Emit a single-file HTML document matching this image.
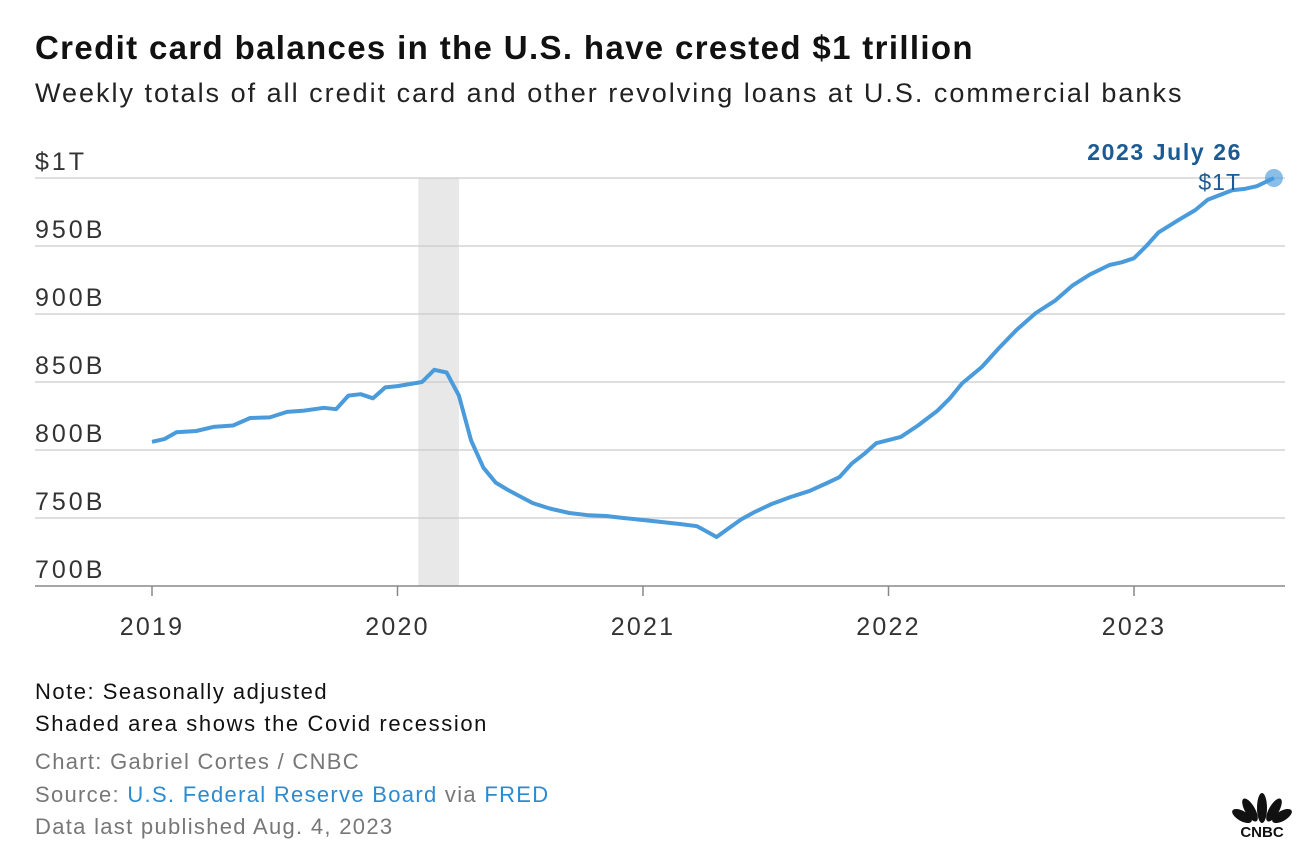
<!DOCTYPE html>
<html><head><meta charset="utf-8"><style>
body{margin:0;width:1312px;height:851px;background:#fff;font-family:"Liberation Sans",sans-serif;overflow:hidden;position:relative}
.t{position:absolute;white-space:nowrap}
a{color:#2a8bd0;text-decoration:none}
</style></head><body>
<div class="t" style="left:35px;top:29px;font-size:33px;letter-spacing:1.35px;font-weight:bold;color:#111">Credit card balances in the U.S. have crested $1 trillion</div>
<div class="t" style="left:35px;top:78px;font-size:27px;letter-spacing:2px;color:#222">Weekly totals of all credit card and other revolving loans at U.S. commercial banks</div>
<svg id="chart" width="1312" height="660" style="position:absolute;left:0;top:0"></svg>
<div class="t" style="left:35px;top:679px;font-size:22px;letter-spacing:1.5px;color:#111">Note: Seasonally adjusted</div>
<div class="t" style="left:35px;top:711px;font-size:22px;letter-spacing:1.6px;color:#111">Shaded area shows the Covid recession</div>
<div class="t" style="left:35px;top:749px;font-size:22px;letter-spacing:1.3px;color:#777">Chart: Gabriel Cortes / CNBC</div>
<div class="t" style="left:35px;top:782px;font-size:22px;letter-spacing:1.3px;color:#777">Source: <a>U.S. Federal Reserve Board</a> via <a>FRED</a></div>
<div class="t" style="left:35px;top:814px;font-size:22px;letter-spacing:1.3px;color:#777">Data last published Aug. 4, 2023</div>
<svg width="80" height="60" style="position:absolute;left:1222px;top:780px">
<g fill="#111"><ellipse cx="40" cy="28" rx="5" ry="15"/><ellipse cx="28" cy="30" rx="5" ry="13" transform="rotate(-30 28 30)"/><ellipse cx="52" cy="30" rx="5" ry="13" transform="rotate(30 52 30)"/><ellipse cx="20" cy="36" rx="5" ry="11" transform="rotate(-60 20 36)"/><ellipse cx="60" cy="36" rx="5" ry="11" transform="rotate(60 60 36)"/></g>
<text x="40" y="57" font-size="15" font-weight="bold" text-anchor="middle" fill="#111" font-family="Liberation Sans">CNBC</text></svg>
<script>
const yTicks=[700,750,800,850,900,950,1000];
const yTickLabels=["700B","750B","800B","850B","900B","950B","$1T"];
const xTicks=[2019,2020,2021,2022,2023];
const dates=[2019.0,2019.05,2019.1,2019.18,2019.25,2019.33,2019.4,2019.48,2019.55,2019.62,2019.7,2019.75,2019.8,2019.85,2019.9,2019.95,2020.0,2020.1,2020.15,2020.2,2020.25,2020.3,2020.35,2020.4,2020.45,2020.55,2020.62,2020.7,2020.78,2020.85,2020.92,2021.0,2021.08,2021.15,2021.22,2021.25,2021.3,2021.35,2021.4,2021.45,2021.52,2021.6,2021.68,2021.75,2021.8,2021.85,2021.9,2021.95,2022.05,2022.12,2022.2,2022.25,2022.3,2022.38,2022.45,2022.52,2022.6,2022.68,2022.75,2022.82,2022.9,2022.95,2023.0,2023.05,2023.1,2023.18,2023.25,2023.3,2023.4,2023.45,2023.5,2023.57];
const values=[806,808,813,814,817,818,823.5,824,828,829,831,830,840,841,838,846,847,850,859,857,840,807,787,776,770.6,761,757,753.7,752,751.5,750,748.5,747,745.6,744,741,736,742.6,749,754,760,765.4,770,775.7,780,790,797,805,809.6,818,829,838,849,861,875,888,900.7,910,921,929,936,938,941,950,960,969,976.5,984,991,992,994,1000];
const svg=document.getElementById('chart');const NS='http://www.w3.org/2000/svg';
const X=d=>152+(d-2019)*245.5, Y=v=>586-(v-700)*68/50;
function el(t,a,p){const e=document.createElementNS(NS,t);for(const k in a)e.setAttribute(k,a[k]);(p||svg).appendChild(e);return e;}
const sh=el('rect',{x:X(2020.085),y:Y(1000),width:X(2020.25)-X(2020.085),height:Y(700)-Y(1000),fill:'#e8e8e8'});


yTicks.forEach((v,i)=>{
 const g=el('line',{x1:35,x2:1285,y1:Y(v),y2:Y(v),stroke:i==0?'#888':'#ccc','stroke-width':i==0?1.5:1.2});
 
 
 const t=el('text',{x:35,y:Y(v)-8,'font-size':25,'letter-spacing':3,fill:'#333','font-family':'Liberation Sans'});t.textContent=yTickLabels[i];
 
 
});
xTicks.forEach(d=>{
 const l=el('line',{x1:X(d),x2:X(d),y1:586,y2:596,stroke:'#888','stroke-width':1.5});
 
 
 const t=el('text',{x:X(d),y:635,'font-size':25,'letter-spacing':2.2,fill:'#333','text-anchor':'middle','font-family':'Liberation Sans'});t.textContent=d;
 
 
});
const p=el('path',{d:dates.map((d,i)=>(i?'L':'M')+X(d).toFixed(1)+','+Y(values[i]).toFixed(1)).join(''),fill:'none',stroke:'#4a9bdb','stroke-width':4,'stroke-linejoin':'round'});


const n=dates.length-1;
const c=el('circle',{cx:X(dates[n]),cy:Y(values[n]),r:9,fill:'#4a9bdb','fill-opacity':0.65});


const a1=el('text',{x:1242,y:160,'font-size':23,'letter-spacing':1.6,'font-weight':'bold',fill:'#1b5a93','text-anchor':'end','font-family':'Liberation Sans'});a1.textContent='2023 July 26';


const a2=el('text',{x:1241,y:190,'font-size':23,'letter-spacing':1,fill:'#1b5a93','text-anchor':'end','font-family':'Liberation Sans'});a2.textContent='$1T';


</script>
</body></html>
